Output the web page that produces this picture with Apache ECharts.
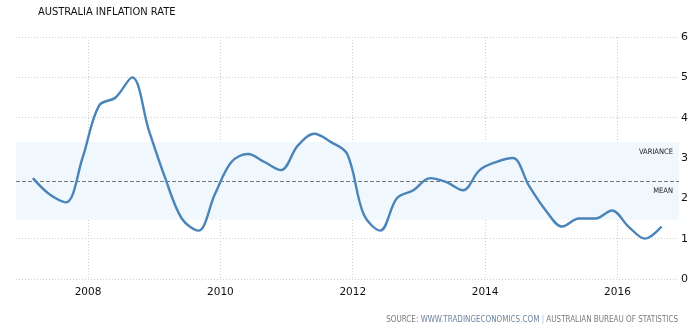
<!DOCTYPE html>
<html>
<head>
<meta charset="utf-8">
<script src="https://cdn.jsdelivr.net/npm/echarts@6/dist/echarts.min.js"></script>
<style>
  html, body { margin: 0; padding: 0; background: #fff; }
  #chart { width: 698px; height: 331px; }
</style>
</head>
<body>
<div id="chart"></div>
<script>
// quarterly readings, year-month
var dates = [
    '2007-03', '2007-06', '2007-09', '2007-12',
    '2008-03', '2008-06', '2008-09', '2008-12',
    '2009-03', '2009-06', '2009-09', '2009-12',
    '2010-03', '2010-06', '2010-09', '2010-12',
    '2011-03', '2011-06', '2011-09', '2011-12',
    '2012-03', '2012-06', '2012-09', '2012-12',
    '2013-03', '2013-06', '2013-09', '2013-12',
    '2014-03', '2014-06', '2014-09', '2014-12',
    '2015-03', '2015-06', '2015-09', '2015-12',
    '2016-03', '2016-06', '2016-09'
];
var inflation = [
    2.5, 2.1, 1.9, 3.0,
    4.3, 4.5, 5.0, 3.7,
    2.5, 1.5, 1.2, 2.1,
    2.9, 3.1, 2.9, 2.7,
    3.3, 3.6, 3.4, 3.1,
    1.6, 1.2, 2.0, 2.2,
    2.5, 2.4, 2.2, 2.7,
    2.9, 3.0, 2.3, 1.7,
    1.3, 1.5, 1.5, 1.7,
    1.3, 1.0, 1.3
];
var yearTicks = [2008, 2010, 2012, 2014, 2016];
var meanValue = 2.43;
var varianceBand = [1.47, 3.39];

function toYear(s) {
    var p = s.split('-');
    return +p[0] + (+p[1] - 1) / 12;
}

var seriesData = dates.map(function (d, i) { return [toYear(d), inflation[i]]; });

var chartDom = document.getElementById('chart');
var myChart = echarts.init(chartDom);
var option;

var font = 'Tahoma, "DejaVu Sans", sans-serif';
var smallFont = '"DejaVu Sans Condensed", "DejaVu Sans", sans-serif';

var refLabel = {
    show: true,
    position: 'insideEndBottom',
    distance: [6, 6],
    color: '#222',
    fontSize: 7.5,
    fontFamily: smallFont
};

option = {
    animation: false,
    textStyle: { fontFamily: font },
    grid: { left: 16, right: 19, top: 37, bottom: 52 },
    graphic: [
        {
            type: 'text', left: 38, top: 7,
            style: { text: 'AUSTRALIA INFLATION RATE', font: '11px ' + smallFont, fill: '#111' }
        },
        {
            type: 'text', right: 20, top: 316,
            style: {
                text: '{g|SOURCE: }{b|WWW.TRADINGECONOMICS.COM}{l| | }{g|AUSTRALIAN BUREAU OF STATISTICS}',
                font: '8px ' + smallFont,
                rich: {
                    g: { fill: '#7a7a7a', font: '8px ' + smallFont },
                    b: { fill: '#6f84a0', font: '8px ' + smallFont },
                    l: { fill: '#b0b8c8', font: '8px ' + smallFont }
                }
            }
        }
    ],
    xAxis: {
        type: 'value',
        min: toYear('2006-12') - 0.005,
        max: 2016.93,
        axisLine: { show: false },
        axisTick: { show: false, customValues: yearTicks },
        axisLabel: {
            customValues: yearTicks,
            color: '#111',
            fontSize: 10.5,
            margin: 8,
            formatter: function (v) { return String(Math.round(v)); }
        },
        splitLine: {
            show: true,
            lineStyle: { color: '#cfcfcf', type: [1, 2], width: 1 }
        }
    },
    yAxis: {
        type: 'value',
        position: 'right',
        min: 0,
        max: 6,
        interval: 1,
        axisLine: { show: false },
        axisTick: { show: false },
        axisLabel: { color: '#111', fontSize: 11, margin: 2, align: 'left' },
        splitLine: { lineStyle: { color: '#cfcfcf', type: [1, 2], width: 1 } }
    },
    series: [
        {
            name: 'Inflation',
            type: 'line',
            data: seriesData,
            smooth: 0.35,
            showSymbol: false,
            lineStyle: { color: '#4a84b8', width: 2.4 },
            itemStyle: { color: '#4a84b8' },
            z: 5,
            markArea: {
                silent: true,
                itemStyle: { color: '#f0f7fd' },
                data: [[
                    { yAxis: varianceBand[1] },
                    { yAxis: varianceBand[0] }
                ]]
            },
            markLine: {
                silent: true,
                symbol: 'none',
                lineStyle: { color: '#777', type: [4, 2], width: 1 },
                label: refLabel,
                data: [
                    { yAxis: meanValue, label: { formatter: 'MEAN' } },
                    {
                        yAxis: varianceBand[1],
                        lineStyle: { color: 'rgba(255,255,255,0)' },
                        label: { formatter: 'VARIANCE', color: '#222' }
                    }
                ]
            }
        }
    ]
};

option && myChart.setOption(option);
</script>
</body>
</html>
